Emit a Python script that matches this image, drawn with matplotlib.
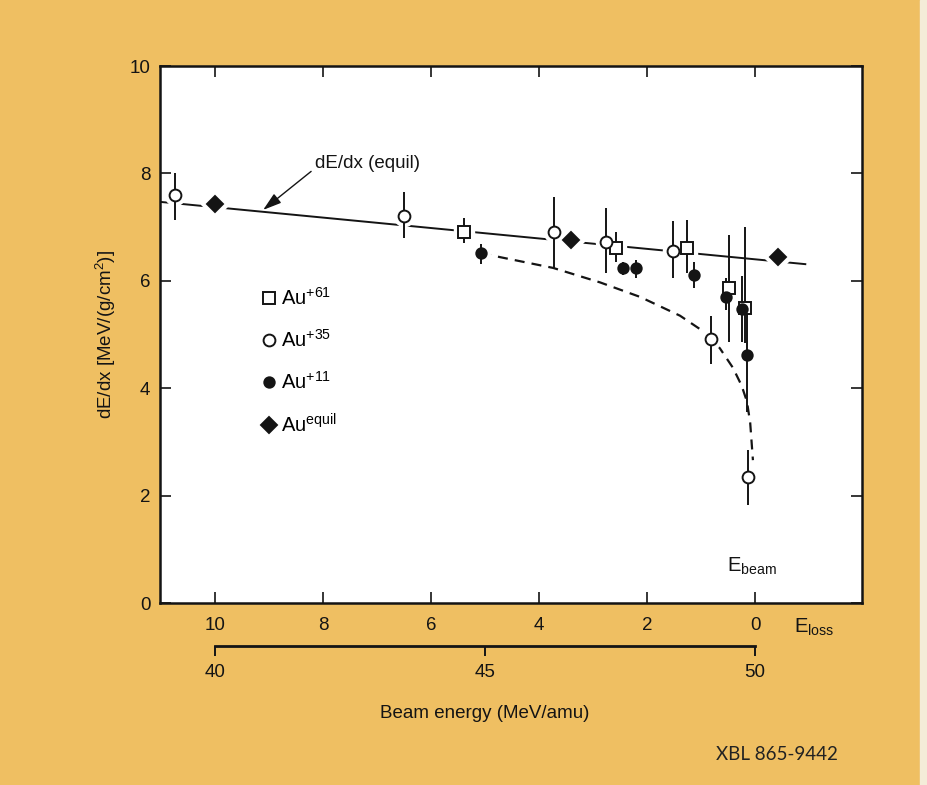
import matplotlib
matplotlib.use("Agg")
import matplotlib.pyplot as plt
import matplotlib.transforms as mtransforms
from matplotlib.lines import Line2D
from matplotlib.patches import Rectangle

plt.rcParams["font.family"] = "Liberation Sans"
plt.rcParams["mathtext.fontset"] = "custom"
plt.rcParams["mathtext.rm"] = "Liberation Sans"
plt.rcParams["mathtext.it"] = "Liberation Sans:italic"
plt.rcParams["mathtext.default"] = "regular"

ink = "#141414"
paper = "#EFBF62"
fs = 13.5

# energy loss (MeV/amu) and stopping power dE/dx (MeV/(g/cm2))
eloss_61 = [5.39, 2.57, 1.26, 0.48, 0.19]
dedx_61 = [6.91, 6.61, 6.61, 5.87, 5.49]
lo_61 = [0.21, 0.26, 0.46, 1.01, 0.65]
hi_61 = [0.26, 0.30, 0.52, 0.98, 1.51]

eloss_35 = [10.74, 6.50, 3.72, 2.76, 1.52, 0.81, 0.13]
dedx_35 = [7.60, 7.21, 6.91, 6.73, 6.55, 4.92, 2.35]
lo_35 = [0.47, 0.41, 0.67, 0.58, 0.50, 0.47, 0.53]
hi_35 = [0.40, 0.44, 0.65, 0.63, 0.56, 0.42, 0.50]

eloss_11 = [5.07, 2.44, 2.20, 1.13, 0.54, 0.24, 0.15]
dedx_11 = [6.52, 6.24, 6.24, 6.11, 5.70, 5.47, 4.62]
lo_11 = [0.21, 0.13, 0.19, 0.24, 0.24, 0.61, 1.06]
hi_11 = [0.17, 0.11, 0.15, 0.24, 0.35, 0.62, 1.00]

eloss_eq = [10.0, 3.41, -0.43]
dedx_eq = [7.43, 6.76, 6.44]

# dE/dx (equil) line and the dashed curve
line_x = [11.02, -0.93]
line_y = [7.47, 6.31]
curve_x = [5.07, 4.72, 3.74, 2.87, 2.13, 1.39, 1.02, 0.81, 0.65, 0.41, 0.25, 0.15, 0.09, 0.04]
curve_y = [6.52, 6.44, 6.24, 5.97, 5.70, 5.35, 5.10, 4.93, 4.74, 4.38, 4.05, 3.75, 3.35, 2.66]

xticks = [10, 8, 6, 4, 2, 0]
yticks = [0, 2, 4, 6, 8, 10]
beam_ticks = [40, 45, 50]

fig = plt.figure(figsize=(9.27, 7.85), dpi=100, facecolor=paper)
fig.patches.append(Rectangle((920 / 927, 0), 7 / 927, 1, transform=fig.transFigure,
                             color="#F4ECD8", zorder=0))
ax = fig.add_axes([160 / 927, 1 - 603 / 785, 702 / 927, 537 / 785])
ax.set_facecolor("white")
ax.set_xlim(11.02, -1.98)
ax.set_ylim(0, 10)

ax.plot(line_x, line_y, color=ink, lw=1.4, zorder=2)
ax.plot(curve_x, curve_y, color=ink, lw=1.6, dashes=(4.5, 3.2), zorder=2)

series = [
    (eloss_61, dedx_61, lo_61, hi_61, "s", 9, "white"),
    (eloss_35, dedx_35, lo_35, hi_35, "o", 8.5, "white"),
    (eloss_11, dedx_11, lo_11, hi_11, "o", 7.5, ink),
    (eloss_eq, dedx_eq, None, None, "D", 8.5, ink),
]
for x, y, lo, hi, m, ms, face in series:
    # white halo so the lines break around each marker
    ax.plot(x, y, ls="none", marker=m, ms=ms + 6, mfc="white", mec="white", zorder=3)
    if lo is not None:
        ax.errorbar(x, y, yerr=[lo, hi], fmt="none", ecolor=ink, elinewidth=1.4,
                    capsize=0, zorder=4)
    ax.plot(x, y, ls="none", marker=m, ms=ms, mfc=face, mec=ink, mew=1.4, zorder=5)

handles = [Line2D([], [], ls="none", marker=m, ms=ms, mfc=face, mec=ink, mew=1.4)
           for _, _, _, _, m, ms, face in series]
labels = ["Au$^{+61}$", "Au$^{+35}$", "Au$^{+11}$", "Au$^{equil}$"]
ax.legend(handles, labels, loc="center left", bbox_to_anchor=(0.141, 0.449),
          frameon=False, fontsize=14.5, handlelength=0.95, handletextpad=0.15,
          labelspacing=1.0, borderpad=0, borderaxespad=0)

ax.annotate("dE/dx (equil)", xy=(9.11, 7.32), xytext=(8.15, 8.19),
            ha="left", va="center", fontsize=fs, color=ink,
            arrowprops=dict(arrowstyle="-|>,head_length=0.8,head_width=0.25",
                            color=ink, lw=1, mutation_scale=14,
                            relpos=(0.0, 0.2), shrinkA=1, shrinkB=0))

ax.text(0.52, 0.58, "E$_{beam}$", fontsize=14.5, color=ink, ha="left", va="baseline")

blend = mtransforms.blended_transform_factory(ax.transData, ax.transAxes)
ax.text(-0.72, -0.056, "E$_{loss}$", transform=blend, fontsize=14.5, color=ink,
        ha="left", va="baseline")
ax.text(5, -0.205, "Beam energy (MeV/amu)", transform=blend, fontsize=fs,
        color=ink, ha="center", va="center")

ax.set_xticks(xticks)
ax.set_yticks(yticks)
ax.tick_params(direction="in", length=8, width=1.2, top=True, right=True,
               labelsize=fs, colors=ink)
ax.tick_params(axis="x", pad=10)
ax.tick_params(axis="y", pad=7)
for s in ax.spines.values():
    s.set_linewidth(1.8)
    s.set_color(ink)

ax.set_ylabel("dE/dx [MeV/(g/cm$^2$)]", fontsize=fs, color=ink)
ax.yaxis.set_label_coords(-0.06, 0.5)

# beam energy bracket below the E_loss axis
ax2 = ax.secondary_xaxis(-0.08, functions=(lambda e: 50 - e, lambda b: 50 - b))
ax2.set_xticks(beam_ticks)
ax2.spines["bottom"].set_bounds(40, 50)
ax2.spines["bottom"].set_linewidth(2.0)
ax2.spines["bottom"].set_color(ink)
ax2.tick_params(direction="out", length=7, width=1.4, labelsize=fs, pad=6, colors=ink)

fig.text(838 / 927, 1 - 754 / 785, "XBL 865-9442", ha="right", va="center",
         family="Lato", fontsize=13.5, color="#222222")

fig.savefig("out.png", dpi=100, facecolor=fig.get_facecolor())
